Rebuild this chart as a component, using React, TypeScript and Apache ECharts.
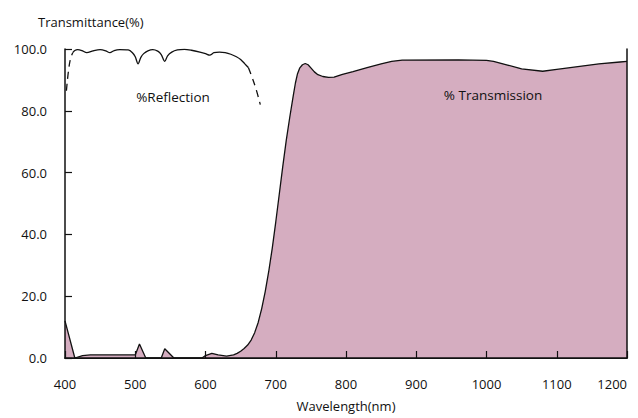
import React, { useEffect, useRef } from "react";
import * as echarts from "echarts";

const xTicks = [400, 500, 600, 700, 800, 900, 1000, 1100, 1200];
const yTicks = [0, 20, 40, 60, 80, 100];

const transWl = [400, 414, 425, 436, 500, 506, 515, 537, 542, 555, 595, 600, 609, 618, 630, 640, 645, 650, 655, 660, 665, 670, 675, 680, 685, 690, 695, 700, 705, 710, 715, 720, 725, 728, 731, 734, 738, 742, 746, 750, 755, 760, 767, 775, 783, 795, 810, 830, 850, 865, 880, 960, 1000, 1010, 1030, 1050, 1080, 1100, 1130, 1160, 1190, 1200];
const transVal = [12, 0, 0.8, 1, 1, 4.5, 0, 0, 3, 0, 0, 0.8, 1.5, 1.0, 0.6, 1.0, 1.5, 2.2, 3.1, 4.2, 5.8, 8.2, 11.5, 16, 21.5, 28, 35.5, 44, 53, 62, 70.5, 78, 85, 89, 92, 93.8, 94.9, 95.3, 94.9, 93.9, 92.6, 91.7, 91.1, 90.8, 90.9, 91.8, 92.7, 94, 95.2, 96, 96.4, 96.5, 96.3, 96, 94.8, 93.6, 92.8, 93.4, 94.3, 95.2, 95.8, 96];

const reflWl = [411, 414, 418, 424, 431, 440, 450, 458, 464, 470, 478, 490, 496, 500, 504, 508, 512, 518, 525, 532, 537, 542, 546, 552, 560, 570, 580, 592, 600, 606, 612, 620, 628, 636, 644, 650, 656, 661];
const reflVal = [98.8, 99.5, 99.8, 99.5, 98.8, 99.4, 99.8, 99.4, 98.8, 99.5, 99.8, 99.7, 98.8, 97.5, 95.2, 97.3, 98.5, 99.4, 99.8, 99.3, 98.2, 96.0, 97.8, 99.0, 99.7, 99.9, 99.6, 99.0, 98.5, 98.0, 98.8, 99.0, 98.8, 98.3, 97.5, 96.6, 95.2, 94.0];

const reflStartWl = [402, 405, 408, 411];
const reflStartVal = [86.5, 93, 97, 98.8];
const reflEndWl = [661, 666, 672, 678];
const reflEndVal = [94.0, 91, 87, 82];

const pairs = (xs: number[], ys: number[]) => xs.map((x, i) => [x, ys[i]]);

const FONT = "'Open Sans', 'Noto Sans', sans-serif";

export default function App() {
  const ref = useRef<HTMLDivElement>(null);
  useEffect(() => {
    if (!ref.current) return;
    const chart = echarts.init(ref.current, null, { renderer: "svg" });
    const lineBase = { type: "line", showSymbol: false, symbol: "none", smooth: false };
    chart.setOption({
      animation: false,
      backgroundColor: "#ffffff",
      grid: { left: 65, top: 49, right: 11, bottom: 60 },
      xAxis: [
        {
          type: "value",
          min: xTicks[0],
          max: xTicks[xTicks.length - 1],
          interval: 100,
          z: 10,
          axisLine: { lineStyle: { color: "#111", width: 1.5 } },
          axisTick: { inside: true, length: 7, lineStyle: { color: "#111", width: 1.2 } },
          axisLabel: {
            color: "#111",
            fontFamily: FONT,
            fontSize: 13,
            margin: 19,
            alignMaxLabel: "right",
            formatter: (v: number) => String(v),
          },
          splitLine: { show: false },
          name: "Wavelength(nm)",
          nameLocation: "middle",
          nameGap: 41,
          nameTextStyle: { color: "#111", fontFamily: FONT, fontSize: 13 },
        },
        {
          type: "value",
          position: "top",
          min: xTicks[0],
          max: xTicks[xTicks.length - 1],
          z: 10,
          axisLine: { show: true, lineStyle: { color: "#111", width: 1.2 } },
          axisTick: { show: false },
          axisLabel: { show: false },
          splitLine: { show: false },
        },
      ],
      yAxis: [
        {
          type: "value",
          min: yTicks[0],
          max: yTicks[yTicks.length - 1],
          interval: 20,
          z: 10,
          axisLine: { show: true, lineStyle: { color: "#111", width: 1.5 } },
          axisTick: { show: true, inside: true, length: 7, lineStyle: { color: "#111", width: 1.2 } },
          axisLabel: {
            color: "#111",
            fontFamily: FONT,
            fontSize: 13,
            margin: 18,
            formatter: (v: number) => v.toFixed(1),
          },
          splitLine: { show: false },
        },
        {
          type: "value",
          position: "right",
          min: yTicks[0],
          max: yTicks[yTicks.length - 1],
          z: 10,
          axisLine: { show: true, lineStyle: { color: "#111", width: 1.5 } },
          axisTick: { show: false },
          axisLabel: { show: false },
          splitLine: { show: false },
        },
      ],
      graphic: [
        {
          type: "text",
          left: 38,
          top: 15,
          z: 100,
          style: { text: "Transmittance(%)", fill: "#111", font: `13px ${FONT}` },
        },
        {
          type: "text",
          x: 173,
          y: 97,
          z: 100,
          style: { text: "%Reflection", fill: "#111", font: `13.5px ${FONT}`, align: "center", verticalAlign: "middle" },
        },
        {
          type: "text",
          x: 493,
          y: 95,
          z: 100,
          style: { text: "% Transmission", fill: "#111", font: `13.5px ${FONT}`, align: "center", verticalAlign: "middle" },
        },
      ],
      series: [
        {
          ...lineBase,
          name: "Transmission",
          data: pairs(transWl, transVal),
          lineStyle: { color: "#111", width: 1.3 },
          areaStyle: { color: "#d5adc0", opacity: 1 },
          z: 2,
        },
        {
          ...lineBase,
          name: "Reflection",
          data: pairs(reflWl, reflVal),
          smooth: 0.3,
          lineStyle: { color: "#111", width: 1.3 },
          z: 3,
        },
        {
          ...lineBase,
          name: "Reflection start",
          data: pairs(reflStartWl, reflStartVal),
          smooth: 0.4,
          lineStyle: { color: "#111", width: 1.3, type: [7, 5] },
          z: 3,
        },
        {
          ...lineBase,
          name: "Reflection end",
          data: pairs(reflEndWl, reflEndVal),
          smooth: 0.4,
          lineStyle: { color: "#111", width: 1.3, type: [7, 5] },
          z: 3,
        },
      ],
    });
    return () => chart.dispose();
  }, []);
  return <div ref={ref} style={{ position: "fixed", left: 0, top: 0, width: 638, height: 418 }} />;
}
